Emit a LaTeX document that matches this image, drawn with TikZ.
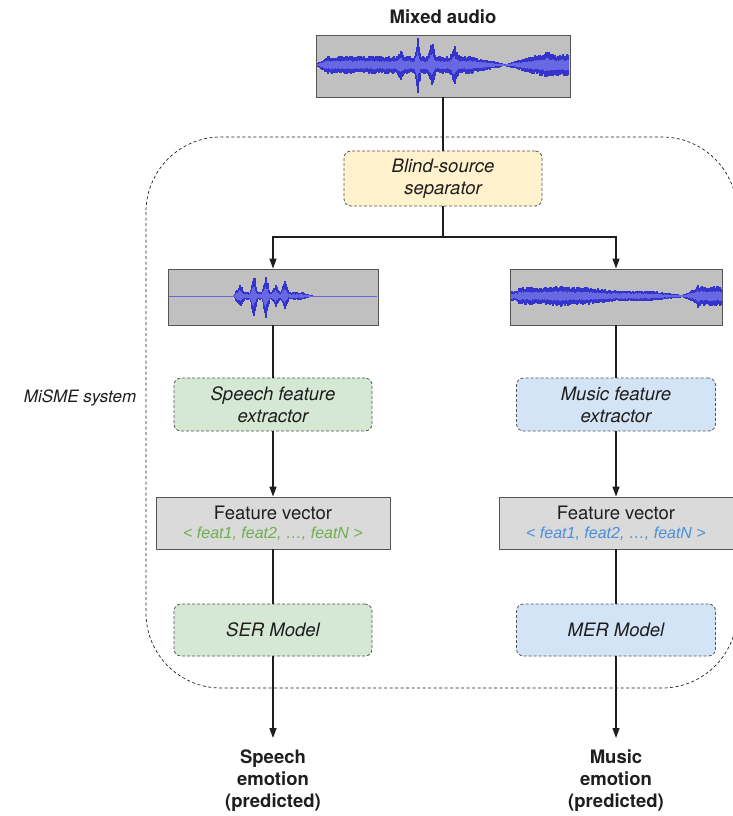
\documentclass[tikz,border=0pt]{standalone}
\usepackage{fontspec}
\setmainfont{TeX Gyre Heros}
\newfontfamily\featfont{Liberation Sans}
\usetikzlibrary{arrows.meta}

\definecolor{wavebg}{HTML}{C0C0C0}
\definecolor{wavepeak}{RGB}{52,52,204}
\definecolor{waverms}{RGB}{104,104,226}
\definecolor{edgegray}{HTML}{555555}
\definecolor{bssfill}{HTML}{FFF2CC}
\definecolor{speechfill}{HTML}{D5E8D4}
\definecolor{musicfill}{HTML}{D4E4F7}
\definecolor{vecfill}{HTML}{DADADA}
\definecolor{speechtext}{HTML}{6DAF4E}
\definecolor{musictext}{HTML}{4A8FDB}
\definecolor{ink}{HTML}{1E1E1E}

% one column of a waveform: peak band plus a lighter RMS core
\newcommand\wavestrip[4]{%
  \foreach \x in {#1,...,#2}{%
    \pgfmathsetmacro\amp{#4}%
    \pgfmathsetmacro\up{\amp*(0.8+0.35*rnd)}%
    \pgfmathsetmacro\dn{\amp*(0.8+0.35*rnd)}%
    \draw[wavepeak,line width=1.15pt] (\x,#3-\up) -- (\x,#3+\dn);
    \draw[waverms,line width=1.15pt] (\x,#3-0.5*\up) -- (\x,#3+0.5*\dn);
  }}

\newcommand\mainsize{\fontsize{18.5}{22}\selectfont}

\tikzset{
  txt/.style={text=ink,font=\mainsize,align=center},
  wavebox/.style={draw=edgegray,line width=0.9pt,fill=wavebg,inner sep=0pt},
  stagebox/.style={draw=edgegray,line width=0.8pt,dash pattern=on 3pt off 2pt,
    rounded corners=7pt,inner sep=0pt,txt,font=\mainsize\itshape},
  vecbox/.style={draw=edgegray,line width=0.8pt,fill=vecfill,inner sep=0pt,txt},
  conn/.style={draw=ink,line width=1.3pt},
  arr/.style={conn,-{Triangle[length=10pt,width=7pt]}},
  region/.style={draw=ink,line width=0.7pt,dash pattern=on 3pt off 2.5pt,rounded corners=75pt},
}

\begin{document}
\begin{tikzpicture}[x=1pt,y=-1pt]
\useasboundingbox (0,0) rectangle (733,816);
\clip (0,0) rectangle (733,816);
\pgfmathsetseed{4172}

% system boundary
\draw[region] (146,137) rectangle (737,688);
\node[txt,font=\fontsize{17}{22}\selectfont\itshape] (sysname) at (80,398) {MiSME system};

% input
\node[txt,font=\mainsize\bfseries] (mixtitle) at (443,17) {Mixed audio};
\node[wavebox,minimum width=254pt,minimum height=62pt] (mixwave) at (443,66) {};
\wavestrip{318}{568}{65}{max(min(8,2+0.6*(\x-318),8-0.2*(\x-470)),min(10,1+0.25*(\x-505)))
  +19*max(0,1-abs(\x-418)/3)+15*max(0,1-abs(\x-432)/4)+9*max(0,1-abs(\x-455)/5)
  +5*max(0,1-abs(\x-401)/4)+3*max(0,1-abs(\x-548)/4)}

% separation stage
\node[stagebox,fill=bssfill,minimum width=198pt,minimum height=55pt] (bss) at (443,178.5)
  {Blind-source\\separator};
\coordinate (split) at (443,237);

% separated sources
\node[wavebox,minimum width=210pt,minimum height=56pt] (spwave) at (273,297) {};
\draw[waverms,line width=1pt] (169,296) -- (377,296);
\wavestrip{234}{313}{296}{max(0,min(3.5,1.2*(\x-233),0.3*(314-\x)))
  +7*max(0,1-abs(\x-240)/5)+18*max(0,1-abs(\x-254)/3.5)+16*max(0,1-abs(\x-266)/4)
  +7*max(0,1-abs(\x-276)/4)+10*max(0,1-abs(\x-285)/4)}

\node[wavebox,minimum width=212pt,minimum height=56pt] (muwave) at (616,297) {};
\wavestrip{512}{721}{296}{max(min(8,1+0.8*(\x-512),8-0.1*(\x-585)),
  min(4.8,4.8-0.11*(\x-650)),min(9,1+0.4*(\x-682)),1.2)
  +3*max(0,1-abs(\x-698)/3)+1.5*max(0,1-abs(\x-560)/10)}

% feature extraction
\node[stagebox,fill=speechfill,minimum width=198pt,minimum height=53pt] (spfe) at (273,404.5)
  {Speech feature\\extractor};
\node[stagebox,fill=musicfill,minimum width=199pt,minimum height=53pt] (mufe) at (616,404.5)
  {Music feature\\extractor};

\node[vecbox,minimum width=234pt,minimum height=52pt] (spfv) at (273,523)
  {Feature vector\\[-3pt]{\color{speechtext}\featfont\fontsize{16}{18}\selectfont\itshape
   < feat1, feat2, …, featN >}};
\node[vecbox,minimum width=234pt,minimum height=52pt] (mufv) at (616,523)
  {Feature vector\\[-3pt]{\color{musictext}\featfont\fontsize{16}{18}\selectfont\itshape
   < feat1, feat2, …, featN >}};

% emotion models
\node[stagebox,fill=speechfill,minimum width=198pt,minimum height=52pt] (spser) at (273,630)
  {SER Model};
\node[stagebox,fill=musicfill,minimum width=199pt,minimum height=52pt] (mumer) at (616,630)
  {MER Model};

% outputs
\node[txt,font=\mainsize\bfseries,inner sep=0pt] (spout) at (273,781)
  {Speech\\emotion\\(predicted)};
\node[txt,font=\mainsize\bfseries,inner sep=0pt] (muout) at (616,781)
  {Music\\emotion\\(predicted)};
\coordinate (spend) at (273,738);
\coordinate (muend) at (616,738);

% connectors
\draw[conn] (mixwave.south) -- (bss.north);
\draw[conn] (bss.south) -- (split);
\draw[arr] (split) -| (spwave.north);
\draw[arr] (split) -| (muwave.north);
\draw[conn] (spwave.south) -- (spfe.north);
\draw[conn] (muwave.south) -- (mufe.north);
\draw[arr] (spfe.south) -- (spfv.north);
\draw[arr] (mufe.south) -- (mufv.north);
\draw[conn] (spfv.south) -- (spser.north);
\draw[conn] (mufv.south) -- (mumer.north);
\draw[arr] (spser.south) -- (spend);
\draw[arr] (mumer.south) -- (muend);
\end{tikzpicture}
\end{document}
